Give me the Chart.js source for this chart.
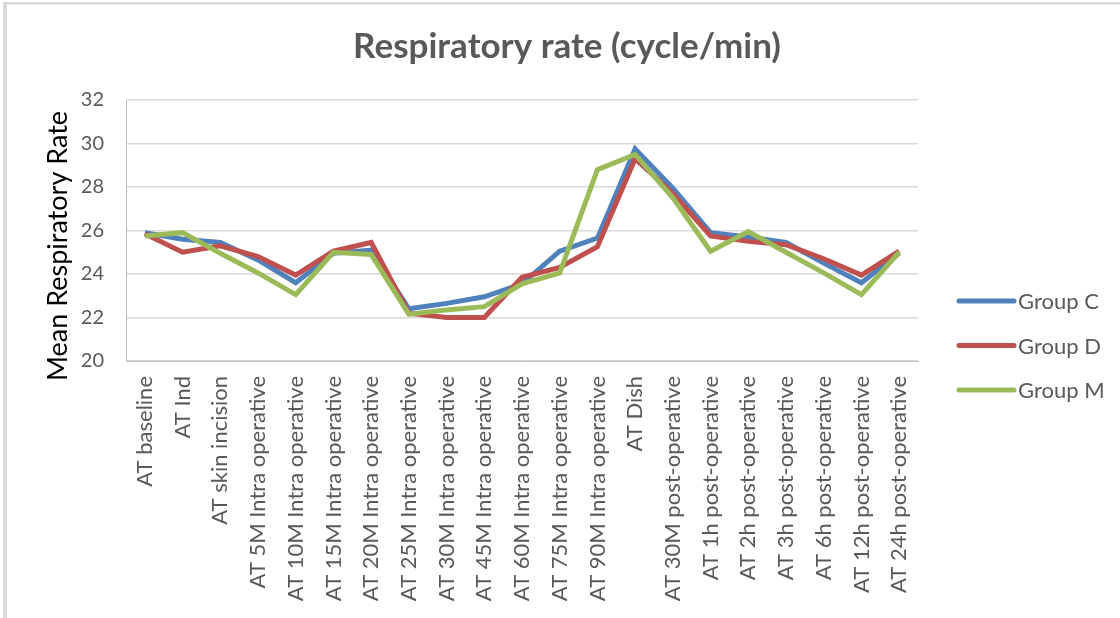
<!DOCTYPE html>
<html>
<head>
<meta charset="utf-8">
<script src="https://cdn.jsdelivr.net/npm/chart.js@4"></script>
<style>
  html, body { margin: 0; padding: 0; background: #fff; }
  #wrap { width: 1120px; height: 618px; position: relative; }
</style>
</head>
<body>
<div id="wrap"><canvas id="c" width="1120" height="618"></canvas></div>
<script>
const categories = [
  "AT baseline", "AT Ind", "AT skin incision", "AT 5M Intra operative",
  "AT 10M Intra operative", "AT 15M Intra operative", "AT 20M Intra operative",
  "AT 25M Intra operative", "AT 30M Intra operative", "AT 45M Intra operative",
  "AT 60M Intra operative", "AT 75M Intra operative", "AT 90M Intra operative",
  "AT Dish", "AT 30M post-operative", "AT 1h post-operative", "AT 2h post-operative",
  "AT 3h post-operative", "AT 6h post-operative", "AT 12h post-operative",
  "AT 24h post-operative"
];
const groupC = [25.9, 25.6, 25.45, 24.65, 23.6, 24.95, 25.1, 22.4, 22.65, 22.95, 23.55, 25.05, 25.65, 29.75, 27.95, 25.9, 25.7, 25.45, 24.5, 23.6, 24.95];
const groupD = [25.85, 25.0, 25.3, 24.8, 23.95, 25.05, 25.45, 22.2, 22.0, 22.0, 23.85, 24.3, 25.25, 29.3, 27.7, 25.75, 25.5, 25.35, 24.7, 23.95, 25.05];
const groupM = [25.75, 25.9, 24.95, 24.05, 23.05, 25.0, 24.9, 22.15, 22.35, 22.5, 23.55, 24.05, 28.8, 29.5, 27.5, 25.05, 25.95, 25.0, 24.05, 23.05, 25.0];
const seriesNames = ["Group C", "Group D", "Group M"];
const seriesColors = ["#4F81BD", "#C0504D", "#9BBB59"];
const yTicks = [20, 22, 24, 26, 28, 30, 32];
const yAxisTitle = "Mean Respiratory Rate";

const FONT = "Lato, 'Open Sans', sans-serif";
const TXT = "#595959";

const frame = {
  id: 'frame',
  beforeDraw(chart) {
    const ctx = chart.ctx;
    ctx.save();
    ctx.fillStyle = '#ffffff';
    ctx.fillRect(0, 0, chart.width, chart.height);
    ctx.fillStyle = '#d9d9d9';
    ctx.fillRect(3, 2, chart.width - 3, 2.5);
    ctx.fillRect(3, 2, 4, chart.height - 2);
    ctx.restore();
  }
};

const yTitlePlugin = {
  id: 'yTitle',
  afterDraw(chart) {
    const ctx = chart.ctx;
    const area = chart.chartArea;
    ctx.save();
    ctx.translate(58, area.bottom - 115);
    ctx.rotate(-Math.PI / 2);
    ctx.fillStyle = '#000000';
    ctx.font = "27px " + FONT;
    ctx.textAlign = 'center';
    ctx.textBaseline = 'middle';
    ctx.fillText(yAxisTitle, 0, 0);
    ctx.restore();
  }
};

const legendPlugin = {
  id: 'sideLegend',
  afterDraw(chart) {
    const ctx = chart.ctx;
    ctx.save();
    const x0 = chart.chartArea.right + 41;
    chart.data.datasets.forEach((ds, i) => {
      const y = 301 + i * 44.5;
      ctx.strokeStyle = ds.borderColor;
      ctx.lineWidth = 5;
      ctx.lineCap = 'round';
      ctx.beginPath();
      ctx.moveTo(x0, y);
      ctx.lineTo(x0 + 55, y);
      ctx.stroke();
      ctx.fillStyle = TXT;
      ctx.font = "22px " + FONT;
      ctx.textBaseline = 'middle';
      ctx.textAlign = 'left';
      ctx.fillText(ds.label, x0 + 59, y + 1);
    });
    ctx.restore();
  }
};

const seriesData = [groupC, groupD, groupM];
const datasets = seriesData.map((d, i) => ({
  label: seriesNames[i],
  data: d,
  borderColor: seriesColors[i],
  backgroundColor: seriesColors[i],
  borderWidth: 5,
  pointRadius: 0,
  pointHoverRadius: 0,
  tension: 0,
  fill: false,
  order: 2 - i
}));

new Chart(document.getElementById('c'), {
  type: 'line',
  data: { labels: categories, datasets },
  plugins: [frame, yTitlePlugin, legendPlugin],
  options: {
    responsive: false,
    animation: false,
    events: [],
    layout: { padding: { top: 0, left: 14, right: 0, bottom: 0 } },
    plugins: {
      legend: { display: false },
      tooltip: { enabled: false },
      title: {
        display: true,
        text: "Respiratory rate (cycle/min)",
        color: TXT,
        font: { family: FONT, size: 35, weight: 'bold', lineHeight: 1.2 },
        padding: { top: 26, bottom: 32 }
      }
    },
    scales: {
      x: {
        type: 'category',
        offset: true,
        grid: { display: false, drawTicks: false },
        border: { display: true, color: '#bfbfbf', width: 1 },
        ticks: {
          autoSkip: false,
          minRotation: 90,
          maxRotation: 90,
          padding: 15,
          color: TXT,
          font: { family: FONT, size: 22 }
        },
        afterFit(scale) { scale.height = 257; }
      },
      y: {
        min: 20,
        max: 32,
        afterBuildTicks(scale) { scale.ticks = yTicks.map(v => ({ value: v })); },
        grid: { color: '#d9d9d9', lineWidth: 1.5, drawTicks: false },
        border: { display: true, color: '#bfbfbf', width: 1 },
        ticks: {
          padding: 22,
          color: TXT,
          font: { family: FONT, size: 20 }
        },
        title: { display: false, text: yAxisTitle },
        afterFit(scale) { scale.width = 112; }
      },
      legendSpace: {
        type: 'linear',
        position: 'right',
        display: true,
        grid: { display: false, drawTicks: false },
        border: { display: false },
        ticks: { display: false },
        afterFit(scale) { scale.width = 202; }
      }
    }
  }
});
</script>
</body>
</html>
